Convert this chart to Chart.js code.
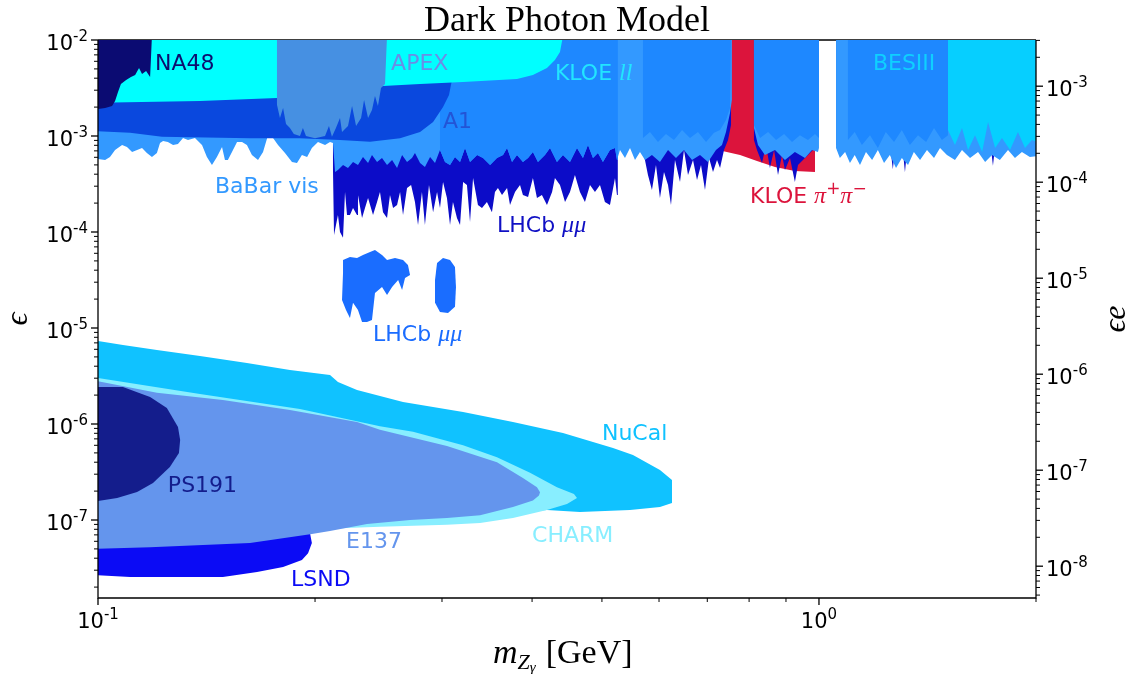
<!DOCTYPE html>
<html>
<head>
<meta charset="utf-8">
<title>Dark Photon Model</title>
<script src="https://cdn.jsdelivr.net/npm/chart.js@4.4.1/dist/chart.umd.min.js"></script>
<style>
  html, body { margin: 0; padding: 0; background: #fff; }
</style>
</head>
<body>
<canvas id="limits" width="1133" height="674"></canvas>
<script>
// axis ranges: dark photon mass in GeV, kinetic mixing epsilon
const MASS_RANGE = [0.1, 2.0];
const EPS_RANGE = [1.54e-8, 1e-2];
const E_CHARGE = 0.3028; // sqrt(4 pi alpha), right axis shows eps * e

const xTickValues = [0.1, 1];
const leftTickValues = [1e-2, 1e-3, 1e-4, 1e-5, 1e-6, 1e-7];
const rightTickValues = [1e-3, 1e-4, 1e-5, 1e-6, 1e-7, 1e-8];

// excluded regions, [mass, epsilon] outlines
const na48 = [[0.098,1.1e-2],[0.1188,1.1e-2],[0.1184,6.19e-3],[0.1181,4.11e-3],[0.1166,4.76e-3],[0.1151,4.43e-3],
  [0.1140,5.1e-3],[0.1126,4.32e-3],[0.1111,4.11e-3],[0.1094,3.83e-3],[0.1076,3.48e-3],[0.1066,2.87e-3],
  [0.1056,2.32e-3],[0.1046,2.05e-3],[0.1023,1.96e-3],[0.098,1.87e-3]];

const kloeLL = [[0.098,1.1e-2],[0.4415,1.1e-2],[0.4373,7.5e-3],[0.4303,6.19e-3],[0.4195,5.1e-3],[0.4011,4.32e-3],
  [0.3812,3.93e-3],[0.3209,3.66e-3],[0.2797,3.48e-3],[0.2485,3.32e-3],[0.2098,2.74e-3],[0.1771,2.49e-3],
  [0.1385,2.32e-3],[0.098,2.21e-3]];

const a1 = [[0.098,1.1e-2],[0.3078,1.1e-2],[0.3097,3.83e-3],[0.3068,2.68e-3],[0.3010,2.0e-3],[0.2916,1.4e-3],
  [0.2797,1.1e-3],[0.2624,9.5e-4],[0.2384,8.7e-4],[0.2166,9.1e-4],[0.1906,9.5e-4],[0.1625,9.5e-4],
  [0.1227,9.8e-4],[0.1108,1.08e-3],[0.098,1.13e-3]];

const apex = [[0.1771,1.1e-2],[0.1771,2.11e-3],[0.1788,1.54e-3],[0.1806,1.96e-3],[0.1823,1.33e-3],[0.1846,1.21e-3],
  [0.1869,1.05e-3],[0.1906,1.0e-3],[0.1924,1.21e-3],[0.1943,1.0e-3],[0.2,9.5e-4],[0.2065,1.0e-3],[0.2091,1.27e-3],
  [0.2111,9.8e-4],[0.2138,1.21e-3],[0.2166,1.54e-3],[0.2180,1.1e-3],[0.2222,1.27e-3],[0.2251,2.05e-3],
  [0.2280,1.27e-3],[0.2317,1.54e-3],[0.2339,2.37e-3],[0.2369,1.54e-3],[0.2399,1.87e-3],[0.2422,2.61e-3],
  [0.2445,2.05e-3],[0.2469,3.16e-3],[0.2501,3.48e-3],[0.2517,1.1e-2]];

// BaBar visible search, lower edge in three mass windows
const babarEdgeLow = [[0.098,5.9e-4],[0.1023,5.62e-4],[0.1039,6.04e-4],[0.1056,7.15e-4],[0.1080,8.06e-4],[0.1097,7.68e-4],
  [0.1115,6.81e-4],[0.1133,7.15e-4],[0.1151,7.5e-4],[0.1169,6.65e-4],[0.1188,6.04e-4],[0.1207,6.65e-4],[0.1219,8.46e-4],
  [0.1231,8.87e-4],[0.1250,8.66e-4],[0.1271,8.06e-4],[0.1291,8.26e-4],[0.1312,9.53e-4],[0.1333,9.08e-4],[0.1363,9.53e-4],
  [0.1394,8.06e-4],[0.1416,6.04e-4],[0.1439,4.99e-4],[0.1462,6.04e-4],[0.1486,7.68e-4],[0.1500,5.62e-4],[0.1514,5.62e-4],
  [0.1534,6.81e-4],[0.1559,8.66e-4],[0.1584,8.66e-4],[0.1609,8.06e-4],[0.1635,6.34e-4],[0.1667,5.62e-4],[0.1694,6.81e-4],
  [0.1721,1.02e-3],[0.1749,9.53e-4],[0.1777,8.06e-4],[0.1817,6.65e-4],[0.1858,5.36e-4],[0.1888,5.23e-4],[0.1918,6.34e-4],
  [0.1950,6.04e-4],[0.1980,7.5e-4],[0.2019,8.66e-4],[0.2065,8.06e-4],[0.2098,8.66e-4],[0.2118,8.46e-4]];
const babarEdgeMid = [[0.2132,4.22e-4],[0.2152,4.43e-4],[0.2187,4.99e-4],[0.2222,4.64e-4],[0.2258,5.36e-4],[0.2294,4.99e-4],
  [0.2331,6.04e-4],[0.2369,5.23e-4],[0.2399,6.34e-4],[0.2438,5.36e-4],[0.2477,5.9e-4],[0.2517,4.99e-4],[0.2558,5.62e-4],
  [0.2599,4.64e-4],[0.2641,6.34e-4],[0.2683,5.36e-4],[0.2726,5.9e-4],[0.2752,6.65e-4],[0.2797,5.23e-4],[0.2841,4.76e-4],
  [0.2888,6.04e-4],[0.2934,5.23e-4],[0.2981,7.15e-4],[0.3029,5.36e-4],[0.3078,4.99e-4],[0.3127,6.04e-4],[0.3178,5.36e-4],
  [0.3229,7.5e-4],[0.3281,5.36e-4],[0.3356,6.34e-4],[0.3420,5.9e-4],[0.3498,4.99e-4],[0.3576,5.9e-4],[0.3646,6.34e-4],
  [0.3693,7.5e-4],[0.3752,5.36e-4],[0.3812,6.34e-4],[0.3885,5.36e-4],[0.3949,5.9e-4],[0.4011,6.81e-4],[0.4076,5.36e-4],
  [0.4168,6.34e-4],[0.4236,7.5e-4],[0.4331,5.36e-4],[0.4415,6.34e-4],[0.4515,5.36e-4],[0.4617,7.5e-4],[0.4706,5.9e-4],
  [0.4782,8.06e-4],[0.4859,5.9e-4],[0.4937,6.65e-4],[0.5016,5.36e-4],[0.5130,7.15e-4],[0.5213,7.5e-4],[0.5246,5.62e-4]];
const babarEdgeHigh = [[0.5297,7.15e-4],[0.5382,5.9e-4],[0.5469,7.5e-4],[0.5557,5.62e-4],[0.5646,6.81e-4],[0.5737,5.62e-4],
  [0.5866,6.34e-4],[0.6018,5.36e-4],[0.6175,7.15e-4],[0.6334,5.9e-4],[0.6498,7.15e-4],[0.6667,5.62e-4],[0.6839,6.34e-4],
  [0.7016,5.36e-4],[0.7197,7.15e-4],[0.7337,8.06e-4],[0.7431,1.1e-3],[0.7527,1.74e-3],[0.7572,2.37e-3]];
const babarOmegaPhi = [[0.8125,1.1e-2],[0.8125,1.21e-3],[0.8230,8.06e-4],[0.8416,6.34e-4],[0.869,7.15e-4],[0.8971,5.62e-4],
  [0.926,6.81e-4],[0.9563,5.9e-4],[0.978,7.15e-4],[0.9968,6.81e-4],[1.0,7.5e-4],[1.0,1.1e-2]];
const babarAbovePhi = [[1.056,1.1e-2],[1.056,7.5e-4],[1.069,5.9e-4],[1.087,6.81e-4],[1.104,5.23e-4],[1.121,6.34e-4],
  [1.140,4.99e-4],[1.162,6.81e-4],[1.185,5.62e-4],[1.207,7.15e-4],[1.231,5.23e-4],[1.254,6.34e-4],[1.279,4.64e-4],
  [1.303,5.9e-4],[1.329,4.99e-4],[1.354,6.81e-4],[1.381,5.62e-4],[1.412,7.15e-4],[1.444,5.9e-4],[1.472,7.5e-4],
  [1.505,6.34e-4],[1.544,5.62e-4],[1.579,7.15e-4],[1.620,5.9e-4],[1.662,6.81e-4],[1.700,5.36e-4],[1.738,6.34e-4],
  [1.782,5.62e-4],[1.829,7.15e-4],[1.870,5.9e-4],[1.912,6.81e-4],[1.961,6.04e-4],[2.06,6.34e-4],[2.06,1.1e-2]];

// deeper blue band sitting on top of BaBar between the resonances
const midBandOmega = [[0.5700,1.1e-2],[0.5700,9.53e-4],[0.5829,1.1e-3],[0.5980,8.66e-4],[0.6135,1.05e-3],[0.6294,9.08e-4],
  [0.6457,1.155e-3],[0.6624,9.53e-4],[0.6795,1.1e-3],[0.6972,8.66e-4],[0.7152,1.08e-3],[0.7291,1.155e-3],
  [0.7431,1.47e-3],[0.7527,1.96e-3],[0.7551,1.1e-2]];
const midBandPhi = [[0.8125,1.1e-2],[0.8125,1.3e-3],[0.8284,9.53e-4],[0.8500,1.1e-3],[0.8720,9.08e-4],[0.8945,1.05e-3],
  [0.9175,8.66e-4],[0.9411,1.02e-3],[0.9655,9.08e-4],[0.9874,1.05e-3],[1.0,9.53e-4],[1.0,1.1e-2]];
const midBandHigh = [[1.097,1.1e-2],[1.097,9.08e-4],[1.121,1.1e-3],[1.147,8.06e-4],[1.177,1.02e-3],[1.207,7.5e-4],
  [1.238,1.1e-3],[1.271,8.66e-4],[1.303,1.155e-3],[1.337,8.06e-4],[1.372,1.02e-3],[1.408,8.66e-4],[1.444,1.21e-3],
  [1.481,9.08e-4],[1.510,1.02e-3],[1.510,1.1e-2]];

const besIII = [[1.510,1.1e-2],[1.510,1.155e-3],[1.544,8.06e-4],[1.579,1.21e-3],[1.610,7.15e-4],[1.646,1.02e-3],
  [1.684,6.81e-4],[1.716,1.4e-3],[1.755,7.5e-4],[1.794,9.53e-4],[1.841,7.15e-4],[1.888,1.1e-3],[1.931,7.5e-4],
  [1.974,9.08e-4],[2.06,8.06e-4],[2.06,1.1e-2]];

const kloePiPi = [[0.7244,1.1e-2],[0.7244,7.15e-4],[0.7772,6.34e-4],[0.8204,5.49e-4],[0.869,4.76e-4],[0.926,4.32e-4],
  [0.9874,4.22e-4],[0.9874,1.1e-2]];

// LHCb prompt dimuon search
const lhcbPromptLow = [[0.2118,1.1e-2],[0.2118,4.43e-4],[0.2125,9.3e-5],[0.2152,1.5e-4],[0.2166,1.0e-4],[0.2187,8.7e-5],
  [0.2201,2.61e-4],[0.2215,1.5e-4],[0.2236,1.5e-4],[0.2258,1.78e-4],[0.2287,1.5e-4],[0.2294,2.43e-4],[0.2324,1.4e-4],
  [0.2346,1.78e-4],[0.2369,2.26e-4],[0.2407,1.5e-4],[0.2438,2.05e-4],[0.2461,2.61e-4],[0.2485,1.61e-4],[0.2517,1.4e-4],
  [0.2541,2.43e-4],[0.2566,1.78e-4],[0.2599,1.91e-4],[0.2624,2.61e-4],[0.2649,1.5e-4],[0.2683,2.87e-4],[0.2718,3.09e-4],
  [0.2752,2.05e-4],[0.2779,1.18e-4],[0.2814,2.61e-4],[0.2841,1.18e-4],[0.2878,3.09e-4],[0.2916,1.61e-4],[0.2953,2.61e-4],
  [0.2981,1.78e-4],[0.3010,3.32e-4],[0.3048,2.26e-4],[0.3078,1.18e-4],[0.3107,2.05e-4],[0.3147,1.4e-4],[0.3178,1.18e-4],
  [0.3209,3.32e-4],[0.3249,3.09e-4],[0.3281,1.27e-4],[0.3313,3.66e-4],[0.3365,1.91e-4],[0.3409,1.78e-4],[0.3463,2.05e-4],
  [0.3519,1.61e-4],[0.3553,2.61e-4],[0.3587,2.87e-4],[0.3634,2.43e-4],[0.3693,2.87e-4],[0.3728,1.91e-4],[0.3788,2.61e-4],
  [0.3849,3.09e-4],[0.3885,2.43e-4],[0.3949,2.32e-4],[0.4011,3.66e-4],[0.4063,2.26e-4],[0.4128,2.43e-4],[0.4195,1.91e-4],
  [0.4264,2.61e-4],[0.4303,3.66e-4],[0.4373,3.09e-4],[0.4444,2.05e-4],[0.4515,2.61e-4],[0.4587,3.93e-4],[0.4661,2.61e-4],
  [0.4736,2.05e-4],[0.4813,3.09e-4],[0.4890,2.61e-4],[0.4969,3.09e-4],[0.5048,2.05e-4],[0.5130,1.91e-4],[0.5213,3.66e-4],
  [0.5246,2.43e-4],[0.526,2.43e-4],[0.526,1.1e-2]];
const lhcbPromptOmega = [[0.5700,1.1e-2],[0.5700,7.15e-4],[0.5792,3.93e-4],[0.5866,2.74e-4],[0.5942,4.99e-4],[0.6018,2.26e-4],
  [0.6096,4.22e-4],[0.6175,3.09e-4],[0.6234,1.91e-4],[0.6314,5.62e-4],[0.6416,3.32e-4],[0.6498,7.15e-4],[0.6582,3.93e-4],
  [0.6688,5.62e-4],[0.6774,3.48e-4],[0.6861,4.99e-4],[0.6949,2.74e-4],[0.7039,5.9e-4],[0.7129,4.22e-4],[0.7221,5.62e-4],
  [0.7291,4.64e-4],[0.7384,7.15e-4],[0.7479,9.08e-4],[0.7551,1.3e-3],[0.7551,1.1e-2]];
const lhcbPromptPhi = [[0.8125,1.1e-2],[0.8125,9.08e-4],[0.8204,7.15e-4],[0.8337,5.23e-4],[0.8444,8.06e-4],[0.855,4.64e-4],
  [0.8664,7.15e-4],[0.8774,3.93e-4],[0.8887,6.34e-4],[0.8971,4.43e-4],[0.9116,5.9e-4],[0.926,3.32e-4],[0.9352,4.99e-4],
  [0.9502,5.62e-4],[0.9655,6.34e-4],[0.981,7.15e-4],[0.9904,8.06e-4],[0.9904,1.1e-2]];
const lhcbPromptHigh = [[1.056,1.1e-2],[1.056,8e-4],[1.255,8e-4],[1.266,4.5e-4],[1.277,8e-4],[1.305,8e-4],[1.316,4.2e-4],
  [1.327,8e-4],[1.73,8e-4],[1.743,4.9e-4],[1.756,8e-4],[2.06,8e-4],[2.06,1.1e-2]];

// LHCb displaced dimuon islands
const lhcbDisplacedA = [[0.2187,5.1e-5],[0.2236,5.49e-5],[0.2287,5.36e-5],[0.2331,5.76e-5],[0.2384,6.19e-5],[0.2422,6.49e-5],
  [0.2477,5.76e-5],[0.2517,5.1e-5],[0.2582,5.36e-5],[0.2649,5.1e-5],[0.2691,4.53e-5],[0.2709,3.56e-5],[0.2666,3.32e-5],
  [0.2641,2.49e-5],[0.2608,3.16e-5],[0.2558,2.68e-5],[0.2517,2.21e-5],[0.2477,2.68e-5],[0.2422,2.32e-5],[0.2399,1.21e-5],
  [0.2361,1.155e-5],[0.2324,1.155e-5],[0.2294,1.54e-5],[0.2258,1.83e-5],[0.2236,1.27e-5],[0.2208,1.54e-5],[0.2180,1.96e-5],
  [0.2187,3.74e-5]];
const lhcbDisplacedB = [[0.2953,4.76e-5],[0.3010,5.36e-5],[0.3078,5.1e-5],[0.3127,4.32e-5],[0.3137,2.68e-5],[0.3127,1.66e-5],
  [0.3058,1.43e-5],[0.2981,1.47e-5],[0.2934,1.83e-5],[0.2934,3.16e-5]];

// beam dump limits
const nuCal = [[0.098,7.5e-6],[0.1083,6.65e-6],[0.1207,5.9e-6],[0.1385,5.1e-6],[0.1609,4.32e-6],[0.1846,3.65e-6],
  [0.2098,3.24e-6],[0.2152,2.74e-6],[0.2287,2.26e-6],[0.2649,1.7e-6],[0.3209,1.33e-6],[0.3763,1.05e-6],[0.4415,8.06e-7],
  [0.518,5.62e-7],[0.5521,4.76e-7],[0.6018,3.32e-7],[0.6254,2.61e-7],[0.6254,1.5e-7],[0.6018,1.37e-7],[0.5469,1.27e-7],
  [0.4661,1.21e-7],[0.4195,1.27e-7],[0.3078,1.1e-7],[0.1906,9.5e-8],[0.098,8.3e-8]];
const charm = [[0.098,3.09e-6],[0.1385,2.05e-6],[0.1906,1.43e-6],[0.2461,9.5e-7],[0.2735,8.3e-7],[0.3209,6.0e-7],
  [0.3576,4.5e-7],[0.3974,3.1e-7],[0.4331,2.2e-7],[0.4573,1.87e-7],[0.4617,1.7e-7],[0.4472,1.47e-7],[0.4195,1.27e-7],
  [0.3763,1.05e-7],[0.3388,9.3e-8],[0.3048,8.9e-8],[0.2461,8.5e-8],[0.1906,7.9e-8],[0.1385,7.3e-8],[0.098,6.8e-8]];
const e137 = [[0.098,2.87e-6],[0.1207,2.11e-6],[0.149,1.78e-6],[0.1846,1.4e-6],[0.2287,1.05e-6],[0.2461,8.7e-7],
  [0.3048,5.9e-7],[0.3576,4.0e-7],[0.3885,2.74e-7],[0.4063,2.2e-7],[0.4103,1.95e-7],[0.4089,1.8e-7],[0.4011,1.6e-7],
  [0.3763,1.37e-7],[0.3388,1.12e-7],[0.3048,1.05e-7],[0.2709,1.0e-7],[0.2361,9.1e-8],[0.2098,7.7e-8],[0.198,7.15e-8],
  [0.1625,5.76e-8],[0.1181,5.2e-8],[0.098,5.0e-8]];
const ps191 = [[0.098,2.43e-6],[0.1083,2.43e-6],[0.1181,1.91e-6],[0.1246,1.47e-6],[0.1291,9.3e-7],[0.1300,6.81e-7],
  [0.1295,5.0e-7],[0.1258,3.56e-7],[0.1192,2.43e-7],[0.1133,1.96e-7],[0.1063,1.7e-7],[0.098,1.54e-7]];
const lsnd = [[0.098,5.3e-8],[0.1385,5.6e-8],[0.1968,7.3e-8],[0.198,5.76e-8],[0.1956,4.5e-8],[0.1918,3.83e-8],
  [0.1806,3.24e-8],[0.1662,2.87e-8],[0.149,2.55e-8],[0.1108,2.55e-8],[0.098,2.68e-8]];

const TOP = 1.1e-2;
const babarLow = [[0.098, TOP], ...babarEdgeLow, ...babarEdgeMid, ...babarEdgeHigh, [0.7572, TOP]];
const midBandLow = [[0.2981, TOP], ...babarEdgeMid.filter(p => p[0] >= 0.2981), [0.526, 5.62e-4], [0.526, TOP]];

// listed bottom layer first
const layers = [
  ['KLOE pi pi', kloePiPi, '#dc143c'],
  ['LHCb prompt', lhcbPromptLow, '#0c0cc8'],
  ['LHCb prompt', lhcbPromptOmega, '#0c0cc8'],
  ['LHCb prompt', lhcbPromptPhi, '#0c0cc8'],
  ['LHCb prompt', lhcbPromptHigh, '#0c0cc8'],
  ['BaBar vis', babarLow, '#3399ff'],
  ['BaBar vis', babarOmegaPhi, '#3399ff'],
  ['BaBar vis', babarAbovePhi, '#3399ff'],
  ['mid band', midBandLow, '#1e88ff'],
  ['mid band', midBandOmega, '#1e88ff'],
  ['mid band', midBandPhi, '#1e88ff'],
  ['mid band', midBandHigh, '#1e88ff'],
  ['BESIII', besIII, '#06cfff'],
  ['A1', a1, '#0a48de'],
  ['KLOE ll', kloeLL, '#00ffff'],
  ['APEX', apex, '#4690e2'],
  ['NA48', na48, '#0b0b72'],
  ['LHCb displaced', lhcbDisplacedA, '#1a6dff'],
  ['LHCb displaced', lhcbDisplacedB, '#1a6dff'],
  ['NuCal', nuCal, '#10c2ff'],
  ['CHARM', charm, '#88eeff'],
  ['LSND', lsnd, '#0b0bf5'],
  ['E137', e137, '#6495ed'],
  ['PS191', ps191, '#141d8c']
];

const datasets = layers.map(([label, pts, color], i) => ({
  label,
  data: pts.map(([x, y]) => ({ x, y })),
  backgroundColor: color,
  borderWidth: 0,
  pointRadius: 0,
  fill: 'shape',
  order: layers.length - i
}));

const regionLabels = [
  { parts: [['NA48', 'sans']], m: 0.120, eps: 5.9e-3, color: '#0d0d6e' },
  { parts: [['APEX', 'sans']], m: 0.255, eps: 5.9e-3, color: '#6a8ee6' },
  { parts: [['A1', 'sans']], m: 0.301, eps: 1.47e-3, color: '#2354d6' },
  { parts: [['KLOE ', 'sans'], ['ll', 'math']], m: 0.4303, eps: 4.64e-3, color: '#22e5ff' },
  { parts: [['BESIII', 'sans']], m: 1.188, eps: 5.9e-3, color: '#0fd0ff' },
  { parts: [['BaBar vis', 'sans']], m: 0.1453, eps: 3.09e-4, color: '#3399ff' },
  { parts: [['KLOE ', 'sans'], ['π', 'math'], ['+', 'sup'], ['π', 'math'], ['−', 'sup']], m: 0.8023, eps: 2.43e-4, color: '#dc143c' },
  { parts: [['LHCb ', 'sans'], ['μμ', 'math']], m: 0.3576, eps: 1.21e-4, color: '#1010c4' },
  { parts: [['LHCb ', 'sans'], ['μμ', 'math']], m: 0.2407, eps: 8.87e-6, color: '#1a6cff' },
  { parts: [['NuCal', 'sans']], m: 0.5, eps: 8.26e-7, color: '#10c2ff' },
  { parts: [['PS191', 'sans']], m: 0.125, eps: 2.37e-7, color: '#141d8c' },
  { parts: [['CHARM', 'sans']], m: 0.4, eps: 7.15e-8, color: '#88eeff' },
  { parts: [['E137', 'sans']], m: 0.2208, eps: 6.19e-8, color: '#6495ed' },
  { parts: [['LSND', 'sans']], m: 0.1852, eps: 2.49e-8, color: '#0b0bf5' }
];

const LABEL_FONTS = {
  sans: '22px "DejaVu Sans"',
  math: 'italic 24px "Liberation Serif"',
  sup: '17px "DejaVu Sans"'
};
const TICK_FONT = '21px "DejaVu Sans"';
const TICK_SUP_FONT = '15px "DejaVu Sans"';

function logTicks(min, max) {
  const out = [];
  for (let p = Math.floor(Math.log10(min)); p <= Math.ceil(Math.log10(max)); p++) {
    for (let k = 1; k <= 9; k++) {
      const v = k * Math.pow(10, p);
      if (v >= min * 0.999 && v <= max * 1.001) out.push({ v, major: k === 1 });
    }
  }
  return out;
}

function drawPower(ctx, value, x, baseline, align) {
  const base = '10';
  const sup = String(Math.round(Math.log10(value)));
  ctx.font = TICK_FONT;
  const wb = ctx.measureText(base).width;
  ctx.font = TICK_SUP_FONT;
  const ws = ctx.measureText(sup).width;
  const total = wb + ws;
  const left = align === 'right' ? x - total : align === 'center' ? x - total / 2 : x;
  ctx.textAlign = 'left';
  ctx.textBaseline = 'alphabetic';
  ctx.font = TICK_FONT;
  ctx.fillText(base, left, baseline);
  ctx.font = TICK_SUP_FONT;
  ctx.fillText(sup, left + wb, baseline - 9);
}

function drawRich(ctx, parts, x, baseline) {
  let cx = x;
  for (const [t, kind] of parts) {
    ctx.font = LABEL_FONTS[kind];
    ctx.fillText(t, cx, baseline + (kind === 'sup' ? -9 : 0));
    cx += ctx.measureText(t).width;
  }
}

const axesDecor = {
  id: 'axesDecor',
  beforeDatasetsDraw(chart) {
    // top spine sits under the filled regions
    const { ctx, chartArea: a } = chart;
    ctx.save();
    ctx.strokeStyle = '#000';
    ctx.lineWidth = 1.3;
    ctx.beginPath();
    ctx.moveTo(a.left, a.top);
    ctx.lineTo(a.right, a.top);
    ctx.stroke();
    ctx.restore();
  },
  afterDatasetsDraw(chart) {
    const { ctx, chartArea: a, scales } = chart;
    const x = scales.x, y = scales.y, yr = scales.yRight;
    ctx.save();

    // region names
    ctx.textAlign = 'left';
    ctx.textBaseline = 'alphabetic';
    for (const lab of regionLabels) {
      ctx.fillStyle = lab.color;
      drawRich(ctx, lab.parts, x.getPixelForValue(lab.m), y.getPixelForValue(lab.eps) + 8);
    }

    // spines
    ctx.strokeStyle = '#000';
    ctx.lineWidth = 1.3;
    ctx.beginPath();
    ctx.moveTo(a.left, a.top);
    ctx.lineTo(a.left, a.bottom);
    ctx.lineTo(a.right, a.bottom);
    ctx.lineTo(a.right, a.top);
    ctx.stroke();

    // tick marks
    const tick = (x0, y0, x1, y1, w) => {
      ctx.lineWidth = w;
      ctx.beginPath();
      ctx.moveTo(x0, y0);
      ctx.lineTo(x1, y1);
      ctx.stroke();
    };
    for (const t of logTicks(MASS_RANGE[0], MASS_RANGE[1])) {
      const px = x.getPixelForValue(t.v);
      tick(px, a.bottom, px, a.bottom + (t.major ? 7 : 4), t.major ? 1.3 : 1);
    }
    for (const t of logTicks(EPS_RANGE[0], EPS_RANGE[1])) {
      const py = y.getPixelForValue(t.v);
      tick(a.left, py, a.left - (t.major ? 7 : 4), py, t.major ? 1.3 : 1);
    }
    for (const t of logTicks(EPS_RANGE[0] * E_CHARGE, EPS_RANGE[1] * E_CHARGE)) {
      const py = yr.getPixelForValue(t.v);
      tick(a.right, py, a.right + (t.major ? 7 : 4), py, t.major ? 1.3 : 1);
    }

    // tick labels
    ctx.fillStyle = '#000';
    for (const v of xTickValues) drawPower(ctx, v, x.getPixelForValue(v), a.bottom + 30, 'center');
    for (const v of leftTickValues) drawPower(ctx, v, a.left - 10, y.getPixelForValue(v) + 10, 'right');
    for (const v of rightTickValues) drawPower(ctx, v, a.right + 10, yr.getPixelForValue(v) + 10, 'left');

    // title
    ctx.textAlign = 'center';
    ctx.font = '36px "Liberation Serif"';
    ctx.fillText('Dark Photon Model', (a.left + a.right) / 2, 31);

    // x axis label: m_{Z_gamma} [GeV]
    ctx.textAlign = 'left';
    let cx = 493;
    const base = 663;
    ctx.font = 'italic 34px "Liberation Serif"';
    ctx.fillText('m', cx, base);
    cx += ctx.measureText('m').width;
    ctx.font = 'italic 22px "Liberation Serif"';
    ctx.fillText('Z', cx, base + 6);
    cx += ctx.measureText('Z').width;
    ctx.font = 'italic 15px "Liberation Serif"';
    ctx.fillText('γ', cx, base + 9);
    cx += ctx.measureText('γ').width + 10;
    ctx.font = '34px "Liberation Serif"';
    ctx.fillText('[GeV]', cx, base);

    // y axis labels
    ctx.textAlign = 'center';
    ctx.textBaseline = 'middle';
    ctx.font = 'italic 32px "Liberation Serif"';
    ctx.save();
    ctx.translate(19, (a.top + a.bottom) / 2);
    ctx.rotate(-Math.PI / 2);
    ctx.fillText('ϵ', 0, 0);
    ctx.restore();
    ctx.save();
    ctx.translate(1117, (a.top + a.bottom) / 2);
    ctx.rotate(-Math.PI / 2);
    ctx.fillText('ϵe', 0, 0);
    ctx.restore();

    ctx.restore();
  }
};

new Chart(document.getElementById('limits'), {
  type: 'line',
  data: { datasets },
  options: {
    responsive: false,
    animation: false,
    devicePixelRatio: 1,
    events: [],
    layout: { padding: { left: 98, top: 40, right: 97, bottom: 76 } },
    plugins: {
      legend: { display: false },
      tooltip: { enabled: false }
    },
    scales: {
      x: { type: 'logarithmic', min: MASS_RANGE[0], max: MASS_RANGE[1], display: false },
      y: { type: 'logarithmic', min: EPS_RANGE[0], max: EPS_RANGE[1], display: false },
      yRight: {
        type: 'logarithmic', position: 'right', display: false,
        min: EPS_RANGE[0] * E_CHARGE, max: EPS_RANGE[1] * E_CHARGE
      }
    }
  },
  plugins: [axesDecor]
});
</script>
</body>
</html>
